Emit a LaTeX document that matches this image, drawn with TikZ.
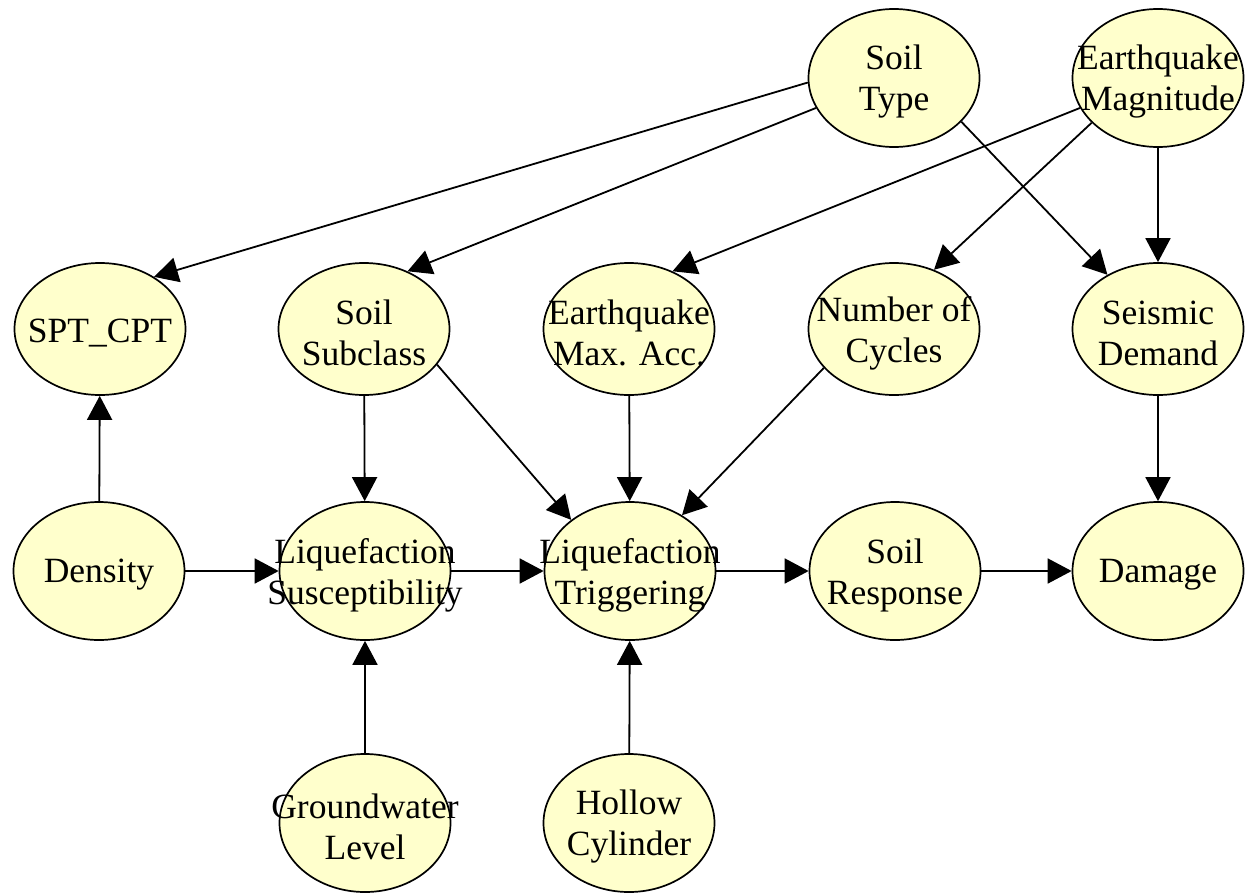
\documentclass[tikz,border=0pt]{standalone}
\usepackage{fontspec}
\setmainfont{Liberation Serif}
\usetikzlibrary{shapes.geometric,arrows.meta}
\definecolor{nodefill}{HTML}{FFFFCC}
\begin{document}
\begin{tikzpicture}[x=1pt,y=-1pt,
  bn/.style={ellipse,draw=black,line width=1.7pt,fill=nodefill,minimum width=171pt,minimum height=138pt,inner sep=0pt},
  bnr/.style={bn,minimum height=132pt},
  lbl/.style={align=center,font=\fontsize{35.5}{41}\selectfont,inner sep=0pt,yshift=-4pt},
  conn/.style={line width=1.8pt,-{Triangle[length=24pt,width=25pt]}}]
\useasboundingbox (0,0) rectangle (1245,892);
% row 1
\node[bn] (st) at (894,78) {};
\node[bn] (em) at (1158,78) {};
% row 2
\node[bnr] (spt) at (100,329) {};
\node[bnr] (ss) at (364,329) {};
\node[bnr] (ema) at (629,329) {};
\node[bnr] (nc) at (894,329) {};
\node[bnr] (sd) at (1158,329) {};
% row 3
\node[bn] (den) at (99,571) {};
\node[bn] (ls) at (365,571) {};
\node[bn] (lt) at (630,571) {};
\node[bn] (sr) at (895,571) {};
\node[bn] (dmg) at (1158,571) {};
% row 4
\node[bn] (gl) at (365,823) {};
\node[bn] (hc) at (629,823) {};
% edges
\draw[conn] (st.183) -- (spt.44);
\draw[conn] (st.201) -- (ss.53);
\draw[conn] (st.327) -- (sd.133);
\draw[conn] (em.201) -- (ema.53);
\draw[conn] (em.214) -- (nc.56);
\draw[conn] (em) -- (sd);
\draw[conn] (den) -- (spt);
\draw[conn] (den) -- (ls);
\draw[conn] (ss) -- (ls);
\draw[conn] (ss.334) -- (lt.139);
\draw[conn] (ema) -- (lt);
\draw[conn] (nc.209) -- (lt.47);
\draw[conn] (sd) -- (dmg);
\draw[conn] (ls) -- (lt);
\draw[conn] (lt) -- (sr);
\draw[conn] (sr) -- (dmg);
\draw[conn] (gl) -- (ls);
\draw[conn] (hc) -- (lt);
% labels
\node[lbl] (st-l) at (st) {Soil\\Type};
\node[lbl] (em-l) at (em) {Earthquake\\Magnitude};
\node[lbl] (spt-l) at (spt) {SPT\_CPT};
\node[lbl] (ss-l) at (ss) {Soil\\Subclass};
\node[lbl] (ema-l) at (ema) {Earthquake\\Max. Acc.};
\node[lbl] (nc-l) at (nc) {Number of\\Cycles};
\node[lbl] (sd-l) at (sd) {Seismic\\Demand};
\node[lbl] (den-l) at (den) {Density};
\node[lbl] (ls-l) at (ls) {Liquefaction\\Susceptibility};
\node[lbl] (lt-l) at (lt) {Liquefaction\\Triggering};
\node[lbl] (sr-l) at (sr) {Soil\\Response};
\node[lbl] (dmg-l) at (dmg) {Damage};
\node[lbl] (gl-l) at (gl) {Groundwater\\Level};
\node[lbl] (hc-l) at (hc) {Hollow\\Cylinder};
\end{tikzpicture}
\end{document}
